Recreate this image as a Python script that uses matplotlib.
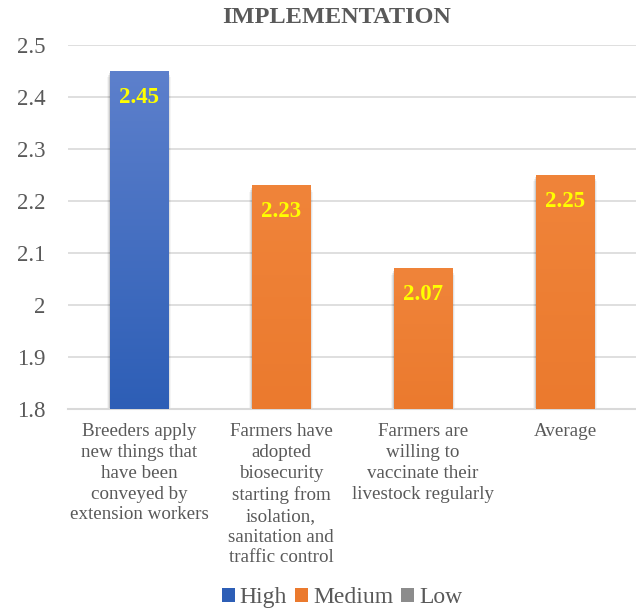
import matplotlib.pyplot as plt
import numpy as np
from matplotlib.colors import LinearSegmentedColormap
from matplotlib.patches import Patch

categories = [
    "Breeders apply\nnew things that\nhave been\nconveyed by\nextension workers",
    "Farmers have\nadopted\nbiosecurity\nstarting from\nisolation,\nsanitation and\ntraffic control",
    "Farmers are\nwilling to\nvaccinate their\nlivestock regularly",
    "Average",
]
values = [2.45, 2.23, 2.07, 2.25]
levels = ["High", "Medium", "Medium", "Medium"]
yticks = [1.8, 1.9, 2.0, 2.1, 2.2, 2.3, 2.4, 2.5]
ytick_labels = ["1.8", "1.9", "2", "2.1", "2.2", "2.3", "2.4", "2.5"]

# top -> bottom gradient colours for each level
gradients = {
    "High": ("#5d80cc", "#2d5eb6"),
    "Medium": ("#f0843a", "#eb7a2e"),
    "Low": ("#b0b0b0", "#8c8c8c"),
}

plt.rcParams["font.family"] = ["Liberation Serif", "DejaVu Serif"]

fig = plt.figure(figsize=(6.36, 6.10), dpi=100)
ax = fig.add_axes([0.107, 0.3295, 0.893, 0.5965])

x = np.arange(len(categories))
bars = ax.bar(x, [v - 1.8 for v in values], bottom=1.8, width=0.41,
              color="none", edgecolor="none", zorder=3)

for rect, lvl, v in zip(bars, levels, values):
    top, bot = gradients[lvl]
    cmap = LinearSegmentedColormap.from_list(lvl, [bot, top])
    x0 = rect.get_x()
    w = rect.get_width()
    # soft drop shadow
    for k, a in enumerate([0.10, 0.07, 0.04]):
        d = 0.006 * (k + 1)
        ax.add_patch(plt.Rectangle((x0 - d, 1.8 - 0.004 * (k + 1)), w + 2 * d, v - 1.8,
                                   facecolor="black", alpha=a, edgecolor="none", zorder=2))
    grad = np.linspace(0, 1, 256).reshape(-1, 1)
    ax.imshow(grad, cmap=cmap, origin="lower", aspect="auto",
              extent=(x0, x0 + w, 1.8, v), zorder=3)
    ax.text(x0 + w / 2, v - 0.05, f"{v:.2f}", ha="center", va="center",
            color="#ffff00", fontsize=16.5, fontweight="bold", zorder=5)

ax.set_xlim(-0.5, len(categories) - 0.5)
ax.set_ylim(1.8, 2.5)
ax.set_aspect("auto")

ax.set_yticks(yticks)
ax.set_yticklabels(ytick_labels)
ax.tick_params(axis="y", length=0, labelsize=16.5, labelcolor="#595959", pad=16)
ax.set_xticks(x)
ax.set_xticklabels(categories, fontsize=13.7, color="#595959", linespacing=1.3)
ax.tick_params(axis="x", length=0, pad=10)
ax.grid(axis="y", color="#d9d9d9", linewidth=1.2, zorder=0)
ax.set_axisbelow(True)
for s in ["top", "right", "left"]:
    ax.spines[s].set_visible(False)
ax.spines["bottom"].set_color("#d9d9d9")
ax.spines["bottom"].set_linewidth(1.5)

fig.text(0.529, 0.971, "IMPLEMENTATION", ha="center", va="center",
         fontsize=17.5, fontweight="bold", color="#595959")

handles = [Patch(facecolor=gradients[k][1], edgecolor="none") for k in ["High", "Medium", "Low"]]
fig.legend(handles, ["High", "Medium", "Low"], loc="center", bbox_to_anchor=(0.538, 0.02),
           ncol=3, frameon=False, fontsize=17, labelcolor="#595959",
           handlelength=0.55, handleheight=0.55, handletextpad=0.2, columnspacing=0.35)

fig.savefig("out.png", dpi=100)
